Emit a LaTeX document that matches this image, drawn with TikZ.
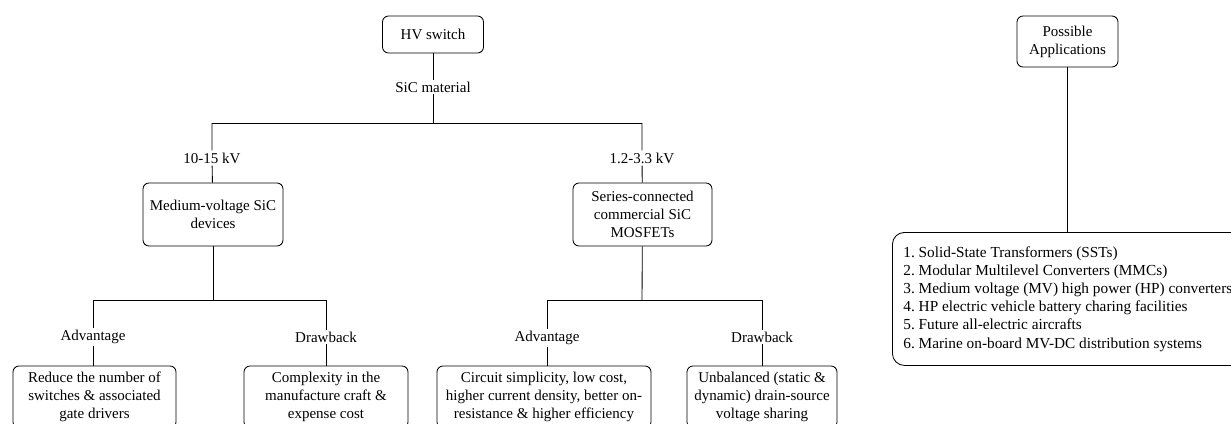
\documentclass[tikz,border=0pt]{standalone}
\usepackage{fontspec}
\setmainfont{Liberation Serif}
\begin{document}
\begin{tikzpicture}[x=1pt,y=-1pt,
  every node/.style={font=\fontsize{15}{18}\selectfont\frenchspacing},
  box/.style={draw, line width=0.85pt, rounded corners=6pt, align=center, inner sep=0pt},
  lbl/.style={inner sep=2pt, align=center},
  conn/.style={line width=0.85pt}]
\path[use as bounding box, clip] (0,0) rectangle (1231,423);
% top tree
\node[box, minimum width=101pt, minimum height=37pt] (hv) at (433,34.5) {HV switch};
\node[lbl] (sic) at (433,87) {SiC material};
\coordinate (j0) at (433,123);
\coordinate (jl) at (212,123);
\coordinate (jr) at (642,123);
\draw[conn] (hv) -- (sic) -- (j0);
\draw[conn] (jl) -- (jr);
\node[lbl] (kv1) at (212,158) {10-15 kV};
\node[lbl] (kv2) at (642,158) {1.2-3.3 kV};
\node[box, minimum width=140pt, minimum height=63pt] (mv) at (213,214.5) {Medium-voltage SiC\\devices};
\node[box, minimum width=139pt, minimum height=63pt] (sc) at (642.5,214.5) {Series-connected\\commercial SiC\\MOSFETs};
\draw[conn] (jl) -- (kv1) -- (mv);
\draw[conn] (jr) -- (kv2) -- (sc);
% left subtree
\coordinate (m0) at (213,300);
\coordinate (ml) at (93,300);
\coordinate (mr) at (326,300);
\draw[conn] (mv) -- (m0);
\draw[conn] (ml) -- (mr);
\node[lbl] (adv1) at (93,337) {Advantage};
\node[lbl] (drw1) at (326,337) {Drawback};
\node[box, minimum width=163pt, minimum height=62pt] (b1) at (94.5,397) {Reduce the number of\\switches \& associated\\gate drivers};
\node[box, minimum width=164pt, minimum height=62pt] (b2) at (326,397) {Complexity in the\\manufacture craft \&\\expense cost};
\draw[conn] (ml) -- (adv1) -- (b1.north -| adv1);
\draw[conn] (mr) -- (drw1) -- (b2);
% right subtree
\coordinate (s0) at (642,300);
\coordinate (sl) at (547,300);
\coordinate (sr) at (762,300);
\draw[conn] (sc) -- (s0);
\draw[conn] (sl) -- (sr);
\node[lbl] (adv2) at (547,338) {Advantage};
\node[lbl] (drw2) at (762,337) {Drawback};
\node[box, minimum width=214pt, minimum height=62pt] (b3) at (544,397) {Circuit simplicity, low cost,\\higher current density, better on-\\resistance \& higher efficiency};
\node[box, minimum width=150pt, minimum height=62pt] (b4) at (762,397) {Unbalanced (static \&\\dynamic) drain-source\\voltage sharing};
\draw[conn] (sl) -- (adv2) -- (b3.north -| adv2);
\draw[conn] (sr) -- (drw2) -- (b4);
% applications
\node[box, rounded corners=12pt, minimum height=133pt, align=left, anchor=north west,
  inner xsep=11pt, font=\fontsize{15.3}{18.2}\selectfont\frenchspacing] (apps) at (892,232) {1. Solid-State Transformers (SSTs)\\2. Modular Multilevel Converters (MMCs)\\3. Medium voltage (MV) high power (HP) converters\\4. HP electric vehicle battery charing facilities\\5. Future all-electric aircrafts\\6. Marine on-board MV-DC distribution systems};
\node[box, minimum width=101pt, minimum height=51pt] (pa) at (1067.5,41.5) {Possible\\Applications};
\draw[conn] (pa) -- (apps.north -| pa);
\end{tikzpicture}
\end{document}
